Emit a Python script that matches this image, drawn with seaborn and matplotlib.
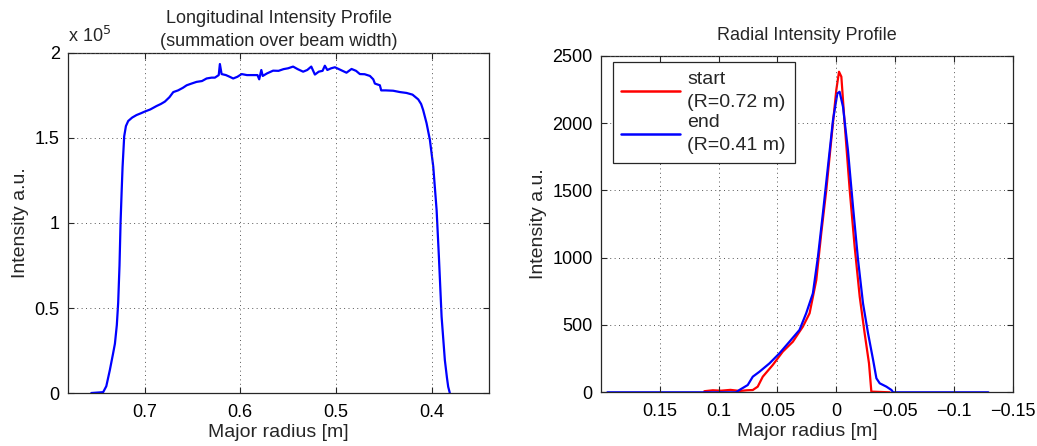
import numpy as np
import pandas as pd
import matplotlib
matplotlib.use("Agg")
import matplotlib.pyplot as plt
from matplotlib.ticker import FuncFormatter, FixedLocator
import seaborn as sns

# ---------------- data ----------------
long_radius = [0.7557, 0.7433, 0.7400, 0.7363, 0.7330, 0.7310, 0.7290, 0.7276, 0.7262, 0.7251,
               0.7240, 0.7230, 0.7213, 0.7195, 0.7171, 0.7130, 0.7084, 0.7040, 0.7000, 0.6940,
               0.6875, 0.6830, 0.6788, 0.6740, 0.6700, 0.6650, 0.6600, 0.6560, 0.6510, 0.6457,
               0.6400, 0.6352, 0.6300, 0.6265, 0.6225, 0.6213, 0.6195, 0.6150, 0.6110, 0.6074,
               0.6030, 0.5986, 0.5930, 0.5865, 0.5820, 0.5802, 0.5780, 0.5765, 0.5720, 0.5657,
               0.5600, 0.5548, 0.5500, 0.5448, 0.5400, 0.5343, 0.5300, 0.5258, 0.5220, 0.5180,
               0.5140, 0.5116, 0.5090, 0.5050, 0.5011, 0.4950, 0.4890, 0.4837, 0.4790, 0.4750,
               0.4700, 0.4645, 0.4610, 0.4593, 0.4541, 0.4527, 0.4480, 0.4402, 0.4330, 0.4263,
               0.4200, 0.4140, 0.4110, 0.4089, 0.4053, 0.4018, 0.3983, 0.3948, 0.3924, 0.3896,
               0.3862, 0.3840, 0.3827, 0.3810]
long_intensity = [0, 500, 4000, 13500, 23000, 29000, 40000, 53000, 75000, 100000,
                  118000, 133000, 151000, 157000, 160000, 162000, 163500, 164500, 165500, 166800,
                  168800, 170000, 171400, 174000, 177000, 178000, 179500, 181000, 182000, 183000,
                  183500, 185000, 185500, 185500, 187000, 193500, 187600, 187000, 186000, 185000,
                  186000, 187600, 187000, 187000, 187000, 184500, 190000, 186500, 188000, 189600,
                  189500, 190500, 191000, 192000, 190500, 189000, 190000, 192000, 187300, 189000,
                  189500, 192500, 190000, 191000, 191600, 190000, 188400, 190600, 189500, 187600,
                  187500, 186500, 184500, 182000, 181000, 178000, 178000, 177800, 177000, 176500,
                  175500, 172700, 170000, 166500, 158700, 148800, 133100, 107600, 80000, 44900,
                  19400, 9000, 3700, 0]

radial_start_r = [0.1122, 0.1050, 0.0980, 0.0900, 0.0820, 0.0760, 0.0710, 0.0668, 0.0625, 0.0540,
                  0.0455, 0.0369, 0.0284, 0.0227, 0.0170, 0.0128, 0.0085, 0.0043, 0.0000, -0.0023,
                  -0.0043, -0.0071, -0.0114, -0.0156, -0.0199, -0.0241, -0.0278, -0.0298, -0.0455]
radial_start_i = [8, 15, 12, 18, 10, 15, 17, 42, 116, 203,
                  302, 376, 488, 587, 834, 1180, 1502, 1873, 2245, 2381,
                  2344, 1997, 1502, 1082, 710, 438, 215, 5, 0]

radial_end_r = [0.1946, 0.0852, 0.0824, 0.0753, 0.0710, 0.0653, 0.0568, 0.0483, 0.0398, 0.0313,
                0.0256, 0.0199, 0.0156, 0.0114, 0.0071, 0.0028, -0.0009, -0.0028, -0.0057, -0.0099,
                -0.0142, -0.0185, -0.0227, -0.0270, -0.0313, -0.0341, -0.0369, -0.0426, -0.0469, -0.0483,
                -0.1293]
radial_end_i = [0, 0, 17, 54, 116, 153, 215, 290, 376, 463,
                587, 735, 1007, 1329, 1676, 2022, 2220, 2232, 2121, 1799,
                1379, 983, 661, 438, 240, 104, 67, 42, 17, 0,
                0]

label_start = "start\n(R=0.72 m)"
label_end = "end\n(R=0.41 m)"

left_xticks = [0.7, 0.6, 0.5, 0.4]
left_yticks = [0, 50000, 100000, 150000, 200000]
right_xticks = [0.15, 0.1, 0.05, 0, -0.05, -0.1, -0.15]
right_yticks = [0, 500, 1000, 1500, 2000, 2500]

# ---------------- style ----------------
sns.set_theme(style="white")
plt.rcParams["font.family"] = ["Liberation Sans", "DejaVu Sans"]
plt.rcParams["axes.unicode_minus"] = True
FS = 13      # ticks / titles
FL = 14      # axis labels / legend
edge = "#262626"

fig = plt.figure(figsize=(10.37, 4.46), dpi=100)
fig.patch.set_facecolor("white")
ax1 = fig.add_axes([0.0656, 0.1188, 0.4060, 0.7624])
ax2 = fig.add_axes([0.5796, 0.1204, 0.3970, 0.7547])

long_df = pd.DataFrame({"radius": long_radius, "intensity": long_intensity})
rad_df = pd.concat([
    pd.DataFrame({"radius": radial_start_r, "intensity": radial_start_i, "profile": label_start}),
    pd.DataFrame({"radius": radial_end_r, "intensity": radial_end_i, "profile": label_end}),
], ignore_index=True)

sns.lineplot(data=long_df, x="radius", y="intensity", ax=ax1, color="#0000ff",
             linewidth=1.6, estimator=None, sort=False)
sns.lineplot(data=rad_df, x="radius", y="intensity", hue="profile",
             hue_order=[label_start, label_end],
             palette={label_start: "#ff0000", label_end: "#0000ff"},
             ax=ax2, linewidth=1.6, estimator=None, sort=False)

def style_axes(ax):
    for s in ax.spines.values():
        s.set_visible(True)
        s.set_color(edge)
        s.set_linewidth(0.9)
    ax.tick_params(direction="in", length=4, width=0.8, color=edge,
                   top=True, right=True, bottom=True, left=True,
                   labelsize=FS, labelcolor="black")
    ax.tick_params(axis="x", pad=8)
    ax.tick_params(axis="y", pad=6)
    ax.grid(True, linestyle=(0, (1, 3.5)), color="#555555", linewidth=0.7)
    ax.set_axisbelow(False)

# left axes
ax1.set_xlim(0.78, 0.34)
ax1.set_ylim(0, 200000)
ax1.xaxis.set_major_locator(FixedLocator(left_xticks))
ax1.yaxis.set_major_locator(FixedLocator(left_yticks))
ax1.xaxis.set_major_formatter(FuncFormatter(lambda v, p: f"{v:g}"))
ax1.yaxis.set_major_formatter(FuncFormatter(lambda v, p: f"{v/1e5:g}"))
style_axes(ax1)
ax1.set_xlabel("Major radius [m]", fontsize=FL, labelpad=2)
ax1.set_ylabel("Intensity a.u.", fontsize=FL, labelpad=4)
ax1.set_title("Longitudinal Intensity Profile\n(summation over beam width)",
              fontsize=FS, pad=5, linespacing=1.45)
ax1.text(0.0, 1.02, r"x 10$^{5}$", transform=ax1.transAxes, fontsize=FS,
         ha="left", va="bottom")

# right axes
ax2.set_xlim(0.2, -0.15)
ax2.set_ylim(0, 2500)
ax2.xaxis.set_major_locator(FixedLocator(right_xticks))
ax2.yaxis.set_major_locator(FixedLocator(right_yticks))
ax2.xaxis.set_major_formatter(FuncFormatter(lambda v, p: "0" if abs(v) < 1e-12 else f"{v:g}".replace("-", "\u2212")))
style_axes(ax2)
ax2.set_xlabel("Major radius [m]", fontsize=FL, labelpad=2)
ax2.set_ylabel("Intensity a.u.", fontsize=FL, labelpad=4)
ax2.set_title("Radial Intensity Profile", fontsize=FS, pad=11)

for t in ax2.get_legend().get_texts() if ax2.get_legend() else []:
    pass
leg = ax2.legend(loc="upper left", bbox_to_anchor=(0.028, 0.98),
                 prop={"size": FL}, frameon=True, fancybox=False, framealpha=1,
                 edgecolor=edge, handlelength=3.0, handletextpad=0.4,
                 labelspacing=0.15, borderpad=0.45, borderaxespad=0.0)
leg.get_frame().set_linewidth(0.9)
for t in leg.get_texts():
    t.set_linespacing(1.45)
for ln in leg.get_lines():
    ln.set_linewidth(1.8)

fig.savefig("out.png", dpi=100, facecolor="white")
